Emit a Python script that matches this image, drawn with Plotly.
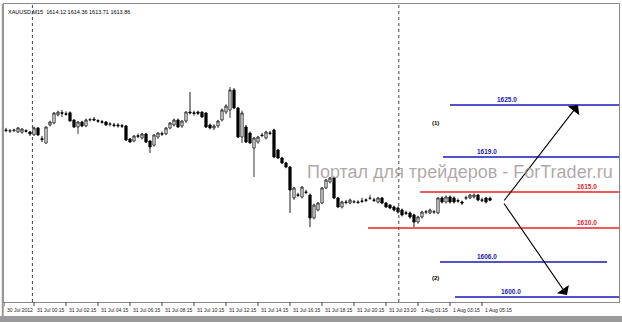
import plotly.graph_objects as go

# ---- data (XAUUSD M15) ----
candle_open = [1623.6, 1623.45, 1623.5, 1623.33, 1623.3, 1623.5, 1623.33, 1622.95, 1623.9, 1622.4,
               1621.8, 1624.3, 1624.58, 1625.7, 1626.0, 1625.85, 1626.0, 1625.0, 1624.03, 1624.72,
               1624.17, 1625.0, 1625.1, 1624.9, 1624.75, 1624.72, 1624.4, 1624.3, 1624.3, 1624.2,
               1624.17, 1622.36, 1622.08, 1622.8, 1622.5, 1623.06, 1622.08, 1621.5, 1622.64, 1623.1,
               1623.06, 1623.89, 1624.31, 1625.0, 1624.17, 1624.86, 1626.11, 1626.0, 1626.1, 1626.1,
               1625.97, 1624.31, 1623.89, 1624.17, 1625.0, 1626.11, 1626.39, 1629.17, 1626.67, 1622.64,
               1624.03, 1623.19, 1621.11, 1621.94, 1622.9, 1622.5, 1623.2, 1623.61, 1620.83, 1619.72,
               1619.03, 1618.47, 1614.17, 1614.6, 1614.31, 1615.0, 1614.58, 1611.39, 1612.5, 1613.47,
               1615.56, 1616.39, 1616.94, 1614.17, 1612.92, 1613.6, 1613.47, 1613.6, 1613.6, 1613.75,
               1613.9, 1614.1, 1613.9, 1613.61, 1614.17, 1613.47, 1613.19, 1612.92, 1612.78, 1612.5,
               1612.1, 1612.08, 1611.81, 1610.83, 1611.53, 1612.2, 1612.08, 1612.2, 1612.08, 1614.17,
               1613.61, 1614.31, 1614.17, 1613.8, 1613.61, 1614.15, 1614.17, 1614.31, 1614.58, 1613.9,
               1614.17, 1614.12]
candle_high = [1623.9, 1623.75, 1623.8, 1624.0, 1623.85, 1623.7, 1623.45, 1624.1, 1624.0, 1622.78,
               1624.1, 1624.9, 1626.1, 1626.3, 1626.4, 1626.2, 1626.2, 1625.1, 1624.85, 1624.9,
               1625.2, 1625.3, 1625.42, 1625.1, 1625.0, 1624.85, 1624.7, 1624.6, 1624.55, 1624.45,
               1624.3, 1622.5, 1622.9, 1623.1, 1623.2, 1623.2, 1622.2, 1623.0, 1623.3, 1623.4,
               1624.0, 1624.7, 1625.2, 1625.2, 1624.95, 1626.2, 1628.89, 1626.3, 1626.3, 1626.2,
               1626.1, 1624.5, 1624.4, 1625.0, 1626.6, 1627.2, 1629.58, 1629.44, 1626.8, 1626.3,
               1624.3, 1623.4, 1622.6, 1622.8, 1623.2, 1623.5, 1623.5, 1623.8, 1621.0, 1619.9,
               1619.2, 1618.6, 1615.7, 1614.9, 1615.8, 1615.3, 1614.8, 1613.4, 1613.6, 1615.7,
               1616.8, 1617.1, 1617.1, 1614.3, 1613.8, 1613.9, 1614.1, 1613.9, 1613.85, 1614.2,
               1614.1, 1614.6, 1614.2, 1614.3, 1614.3, 1613.6, 1613.3, 1613.1, 1613.0, 1612.7,
               1612.4, 1612.3, 1612.0, 1611.7, 1612.4, 1612.5, 1612.7, 1612.5, 1614.3, 1614.4,
               1614.5, 1614.5, 1614.4, 1614.1, 1613.8, 1614.5, 1614.7, 1614.8, 1614.7, 1614.2,
               1614.3, 1614.36]
candle_low = [1623.3, 1623.2, 1623.3, 1623.2, 1623.1, 1623.25, 1622.78, 1622.8, 1622.8, 1621.94,
              1621.7, 1624.1, 1624.4, 1625.5, 1625.4, 1625.6, 1624.8, 1623.9, 1623.06, 1624.0,
              1624.0, 1624.8, 1624.85, 1624.6, 1624.5, 1624.2, 1624.1, 1624.0, 1623.95, 1623.9,
              1622.1, 1621.8, 1621.9, 1622.5, 1622.3, 1621.8, 1620.42, 1621.3, 1622.4, 1622.8,
              1622.9, 1623.7, 1624.1, 1623.9, 1623.9, 1624.6, 1625.8, 1625.6, 1625.7, 1625.3,
              1623.9, 1623.7, 1623.6, 1623.9, 1624.8, 1625.8, 1625.28, 1626.5, 1622.5, 1621.81,
              1621.8, 1621.7, 1617.08, 1621.7, 1622.6, 1622.3, 1622.9, 1619.7, 1619.6, 1618.9,
              1618.3, 1612.08, 1613.9, 1614.3, 1614.1, 1614.7, 1610.14, 1611.2, 1612.3, 1613.3,
              1615.4, 1616.2, 1614.0, 1612.8, 1612.7, 1613.3, 1613.3, 1613.4, 1613.35, 1613.5,
              1613.6, 1613.9, 1613.6, 1613.4, 1613.3, 1612.8, 1612.6, 1612.3, 1612.0, 1611.6,
              1611.8, 1611.3, 1610.14, 1610.6, 1611.3, 1611.9, 1611.9, 1611.95, 1611.9, 1613.4,
              1613.4, 1613.4, 1613.4, 1613.5, 1613.2, 1613.9, 1614.0, 1614.1, 1613.7, 1613.6,
              1613.4, 1613.71]
candle_close = [1623.55, 1623.5, 1623.6, 1623.9, 1623.75, 1623.45, 1623.06, 1623.9, 1622.92, 1622.3,
                1624.03, 1624.72, 1625.97, 1626.1, 1625.95, 1625.8, 1624.86, 1624.03, 1624.72, 1624.17,
                1625.0, 1625.05, 1625.0, 1624.85, 1624.7, 1624.31, 1624.45, 1624.25, 1624.2, 1624.15,
                1622.22, 1621.94, 1622.78, 1622.75, 1623.06, 1621.94, 1621.25, 1622.92, 1623.19, 1623.05,
                1623.89, 1624.58, 1625.0, 1624.03, 1624.86, 1626.11, 1626.0, 1625.9, 1625.95, 1625.42,
                1624.03, 1623.89, 1624.17, 1624.86, 1626.39, 1626.94, 1629.17, 1626.67, 1622.64, 1625.97,
                1621.94, 1621.81, 1622.5, 1622.64, 1622.85, 1623.33, 1623.15, 1619.86, 1619.72, 1619.03,
                1618.47, 1615.28, 1615.56, 1614.55, 1615.69, 1614.95, 1611.39, 1613.19, 1613.47, 1615.56,
                1616.67, 1616.94, 1614.17, 1612.92, 1613.61, 1613.55, 1613.89, 1613.65, 1613.55, 1613.7,
                1613.85, 1614.15, 1613.85, 1614.17, 1613.47, 1612.92, 1612.78, 1612.5, 1612.22, 1611.81,
                1612.05, 1611.53, 1610.83, 1611.53, 1612.22, 1612.25, 1612.5, 1612.25, 1614.17, 1613.61,
                1614.31, 1613.61, 1613.61, 1613.75, 1613.47, 1614.2, 1614.58, 1614.58, 1613.89, 1613.85,
                1613.61, 1613.86]

tick_pos = [-0.5, 7, 15, 23, 31, 39, 47, 55, 63, 71, 79, 87, 95, 103, 111, 119]
tick_text = ["30 Jul 2012", "31 Jul 00:15", "31 Jul 02:15", "31 Jul 04:15", "31 Jul 06:15",
             "31 Jul 08:15", "31 Jul 10:15", "31 Jul 12:15", "31 Jul 14:15", "31 Jul 16:15",
             "31 Jul 18:15", "31 Jul 20:15", "31 Jul 23:20", "1 Aug 01:15", "1 Aug 03:15",
             "1 Aug 05:15"]
day_separators = [6.6, 98.2]

# drawn level lines: label, drawn price position, start/end bar, colour kind, label bar
level_labels = ["1625.0", "1619.0", "1615.0", "1610.0", "1606.0", "1600.0"]
level_price = [1627.08, 1619.86, 1615.0, 1610.0, 1605.28, 1600.42]
level_x0 = [111.0, 109.25, 103.5, 90.5, 108.5, 112.25]
level_x1 = [153.25, 153.25, 153.25, 153.25, 150.25, 153.25]
level_kind = ["blue", "blue", "red", "red", "blue", "blue"]
level_label_x = [125.25, 120.25, 145.25, 145.25, 120.25, 126.25]

scenario_text = ["(1)", "(2)"]
scenario_x = [107.3, 107.3]
scenario_y = [1624.6, 1603.1]

arrow_tail = (124.25, 1613.61)
arrow_heads_x = [143.0, 140.25]
arrow_heads_y = [1627.08, 1600.69]

header = "XAUUSD,M15  1614.12 1614.36 1613.71 1613.86"
watermark = "Портал для трейдеров - ForTrader.ru"

colors = {"blue": "#1a1ab4", "red": "#e8242a"}

# ---- figure ----
idx = list(range(len(candle_open)))
fig = go.Figure()
fig.add_trace(go.Candlestick(
    x=idx, open=candle_open, high=candle_high, low=candle_low, close=candle_close,
    increasing=dict(line=dict(color="#222", width=0.9), fillcolor="white"),
    decreasing=dict(line=dict(color="black", width=0.9), fillcolor="black"),
    whiskerwidth=0, showlegend=False, hoverinfo="skip",
))

shapes = []
for xs in day_separators:
    shapes.append(dict(type="line", xref="x", yref="paper", x0=xs, x1=xs, y0=0, y1=1,
                       line=dict(color="#444", width=1, dash="dot")))
for p, x0, x1, k in zip(level_price, level_x0, level_x1, level_kind):
    shapes.append(dict(type="line", xref="x", yref="y", x0=x0, x1=x1, y0=p, y1=p,
                       line=dict(color=colors[k], width=1.6)))
for t in tick_pos:
    shapes.append(dict(type="line", xref="x", yref="paper", x0=t, x1=t, y0=0, y1=-0.014,
                       line=dict(color="#444", width=1)))
# bottom grey strip
shapes.append(dict(type="rect", xref="paper", yref="paper", x0=-0.01, x1=1.01,
                   y0=-0.047, y1=-0.068, fillcolor="#9a9a9a", line=dict(width=0)))
shapes.append(dict(type="line", xref="paper", yref="paper", x0=-0.002, x1=-0.002, y0=1, y1=-0.047,
                   line=dict(color="#999", width=2)))

ann = []
for t, s in zip(tick_pos, tick_text):
    ann.append(dict(x=t, y=-0.027, xref="x", yref="paper", text=s, showarrow=False,
                    xanchor="left", yanchor="middle", xshift=1,
                    font=dict(size=5, color="#222", family="Liberation Sans")))
for lbl, p, lx, k in zip(level_labels, level_price, level_label_x, level_kind):
    ann.append(dict(x=lx, y=p, xref="x", yref="y", text="<b>" + lbl + "</b>", showarrow=False,
                    xanchor="center", yanchor="bottom", yshift=0,
                    font=dict(size=6.5, color=colors[k], family="Liberation Sans")))
for s, sx, sy in zip(scenario_text, scenario_x, scenario_y):
    ann.append(dict(x=sx, y=sy, xref="x", yref="y", text="<b>" + s + "</b>", showarrow=False,
                    xanchor="center", yanchor="middle",
                    font=dict(size=6, color="black", family="Liberation Sans")))
for hx, hy in zip(arrow_heads_x, arrow_heads_y):
    ann.append(dict(x=hx, y=hy, ax=arrow_tail[0], ay=arrow_tail[1], xref="x", yref="y",
                    axref="x", ayref="y", text="", showarrow=True, arrowhead=1,
                    arrowsize=2.2, arrowwidth=1.1, arrowcolor="black", standoff=0))
ann.append(dict(x=0, y=1, xref="paper", yref="paper", text=header, showarrow=False,
                xanchor="left", yanchor="top", xshift=2, yshift=-3,
                font=dict(size=5.5, color="black", family="Liberation Sans")))
ann.append(dict(x=1, y=1617.75, xref="paper", yref="y", text=watermark, showarrow=False,
                xanchor="right", yanchor="middle", xshift=-4,
                font=dict(size=18, color="rgba(150,140,140,0.75)", family="Liberation Sans")))

fig.update_layout(
    width=622, height=322,
    margin=dict(l=4, r=3, t=4, b=20),
    paper_bgcolor="white", plot_bgcolor="white",
    boxgap=0.2,
    shapes=shapes, annotations=ann,
    xaxis=dict(range=[-0.5, 153.25], showgrid=False, zeroline=False, showticklabels=False,
               ticks="", showline=True, mirror=True, linecolor="#888", linewidth=1,
               rangeslider=dict(visible=False), fixedrange=True),
    yaxis=dict(range=[1599.72, 1641.11], showgrid=False, zeroline=False, showticklabels=False,
               ticks="", showline=True, mirror=True, linecolor="#888", linewidth=1, fixedrange=True),
)
fig.write_html("out.html", config={"displayModeBar": False})
